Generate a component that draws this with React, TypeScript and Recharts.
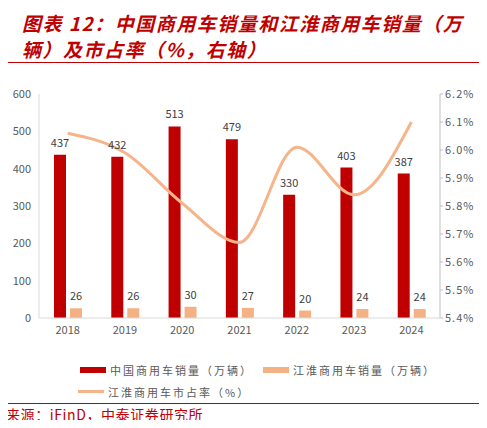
import React from 'react';
import {
  ComposedChart,
  Bar,
  Line,
  XAxis,
  YAxis,
  LabelList,
} from 'recharts';

const years = ['2018', '2019', '2020', '2021', '2022', '2023', '2024'];
const chinaSales = [437, 432, 513, 479, 330, 403, 387];
const jacSales = [26, 26, 30, 27, 20, 24, 24];
const jacShare = [6.06, 5.99, 5.81, 5.67, 6.01, 5.84, 6.1];
const leftTicks = [0, 100, 200, 300, 400, 500, 600];
const rightTicks = [5.4, 5.5, 5.6, 5.7, 5.8, 5.9, 6.0, 6.1, 6.2];

const RED = '#C00000';
const ORANGE = '#F4B183';
const LINE = '#F6B48A';
const GREY = '#595959';
const CJK = '"Noto Sans CJK SC", "Noto Sans", sans-serif';

const data = years.map((year, i) => ({
  year,
  china: chinaSales[i],
  jac: jacSales[i],
  share: jacShare[i],
}));

function LegendItem({ kind, color, text }: { kind: 'bar' | 'line'; color: string; text: string }) {
  return (
    <span style={{ display: 'inline-flex', alignItems: 'center', marginRight: 10 }}>
      <span
        style={{
          display: 'inline-block',
          width: 26,
          height: kind === 'bar' ? 6 : 3,
          background: color,
          marginRight: 4,
        }}
      />
      <span style={{ color: GREY, fontSize: 11, letterSpacing: 2 }}>{text}</span>
    </span>
  );
}

export default function App() {
  return (
    <div
      style={{
        position: 'relative',
        width: 487,
        height: 428,
        margin: -8,
        background: '#fff',
        fontFamily: CJK,
        overflow: 'hidden',
      }}
    >
      <div style={{ position: 'absolute', left: 5, right: 5, top: 5, height: 3, background: RED }} />
      <div
        style={{
          position: 'absolute',
          left: 22,
          top: 10,
          width: 465,
          color: RED,
          fontSize: 19,
          fontWeight: 700,
          fontStyle: 'italic',
          lineHeight: '26px',
          letterSpacing: 1.5,
          whiteSpace: 'nowrap',
        }}
      >
        图表 12：中国商用车销量和江淮商用车销量（万
        <br />
        辆）及市占率（%，右轴）
      </div>
      <div style={{ position: 'absolute', left: 5, right: 5, top: 62, height: 1, background: RED }} />

      <div style={{ position: 'absolute', left: 0, top: 0 }}>
        <ComposedChart
          width={487}
          height={428}
          data={data}
          margin={{ top: 94, right: 0, bottom: 80, left: 0 }}
          barSize={12}
          barGap={4}
        >
          <XAxis
            dataKey="year"
            tick={{ fill: GREY, fontSize: 11 }}
            tickLine={false}
            axisLine={{ stroke: '#D9D9D9' }}
            height={30}
          />
          <YAxis
            yAxisId="left"
            domain={[0, 600]}
            ticks={leftTicks}
            width={39}
            tick={{ fill: GREY, fontSize: 11 }}
            tickLine={false}
            axisLine={{ stroke: '#D9D9D9' }}
          />
          <YAxis
            yAxisId="right"
            orientation="right"
            domain={[5.4, 6.2]}
            ticks={rightTicks}
            width={47}
            tick={{ fill: GREY, fontSize: 11, letterSpacing: 1 }}
            tickFormatter={(v: number) => `${v.toFixed(1)}%`}
            tickLine={{ stroke: '#BFBFBF' }}
            tickSize={3}
            axisLine={{ stroke: '#BFBFBF' }}
          />
          <Bar yAxisId="left" dataKey="china" fill={RED} isAnimationActive={false}>
            <LabelList dataKey="china" position="top" offset={8} fill="#404040" fontSize={11} />
          </Bar>
          <Bar yAxisId="left" dataKey="jac" fill={ORANGE} isAnimationActive={false}>
            <LabelList dataKey="jac" position="top" offset={8} fill="#404040" fontSize={11} />
          </Bar>
          <Line
            yAxisId="right"
            dataKey="share"
            type="monotone"
            stroke={LINE}
            strokeWidth={3}
            dot={false}
            isAnimationActive={false}
          />
        </ComposedChart>
      </div>

      <div style={{ position: 'absolute', left: 80, top: 354, whiteSpace: 'nowrap' }}>
        <LegendItem kind="bar" color={RED} text="中国商用车销量（万辆）" />
        <LegendItem kind="bar" color={ORANGE} text="江淮商用车销量（万辆）" />
      </div>
      <div style={{ position: 'absolute', left: 78, top: 374, whiteSpace: 'nowrap' }}>
        <LegendItem kind="line" color={LINE} text="江淮商用车市占率（%）" />
      </div>

      <div style={{ position: 'absolute', left: 5, right: 5, top: 403, height: 1, background: RED }} />
      <div
        style={{
          position: 'absolute',
          left: 6,
          top: 404,
          color: RED,
          fontSize: 14,
          letterSpacing: 0.6,
          lineHeight: '20px',
          whiteSpace: 'nowrap',
        }}
      >
        来源：iFinD，中泰证券研究所
      </div>
    </div>
  );
}
